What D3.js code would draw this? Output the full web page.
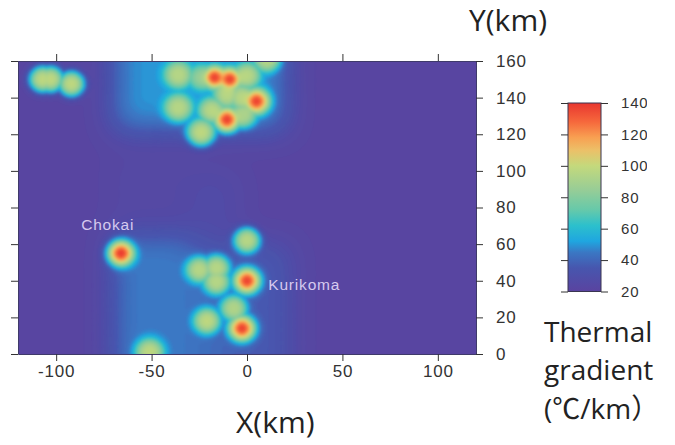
<!DOCTYPE html>
<meta charset="utf-8">
<head>
<title>Thermal gradient map</title>
<style>
    html, body { margin: 0; padding: 0; background: #fff; }
    svg { display: block; }
    .tick text { font-family: "Liberation Sans", Arial, sans-serif; fill: #333; }
    .big { font-family: "Open Sans", "Noto Sans CJK JP", sans-serif; font-size: 28px; fill: #222; }
    .name { font-family: "Liberation Sans", Arial, sans-serif; font-size: 15.5px; letter-spacing: 0.8px; fill: #d6c9ef; }
</style>
</head>
<body>
<div id="my_dataviz"></div>
<script src="https://d3js.org/d3.v7.min.js"></script>
<script>

// warm spots
var spotX     = [-107, -103, -92, -36, -24, -17, -9, 0, 10.5, 5, -36, -24, -10.5, -18.5, -10.5, -2.6, -2, -66, 0, -25, -16, -16, 0, -7, -21, -2.6, -51];
var spotY     = [150, 150, 147.5, 152.5, 151, 151, 150, 152, 161, 138, 134.5, 121, 128, 133, 141.5, 140, 130.5, 55, 62, 46, 47, 39.5, 40, 25, 18, 14, 1];
var spotPeak  = [98, 98, 98, 96, 85, 96, 96, 96, 96, 100, 96, 98, 100, 96, 96, 96, 92, 100, 96, 96, 96, 96, 100, 94, 98, 100, 98];
var spotWidth = [7.2, 7.2, 7, 7.5, 7, 6.6, 6.6, 7, 7, 7.6, 7.5, 7.5, 7.2, 7, 7, 7, 7, 7.6, 7, 7, 7, 7, 7.6, 7, 7, 7.6, 7.5];

// red cores inside some of the spots
var coreX    = [-17, -9, 5, -10.5, -66, 0, -2.6];
var coreY    = [151, 150, 138, 128, 55, 40, 14];
var corePeak = [138, 138, 138, 138, 140, 138, 138];
var coreWidth = 4.2;

// soft blue blocks behind the spots: x0, x1, y0, y1, value
var blockX0  = [-70, -70, -28, -10, -30, -70];
var blockX1  = [20, -28, -10, 22, -5, -30];
var blockY0  = [122, -10, -10, -10, 0, 60];
var blockY1  = [170, 64, 55, 60, 100, 110];
var blockVal = [50, 46, 42, 37, 28, 25];
var baseVal = 22;

// colour bar
var colorVals = [20, 35, 45, 52, 62, 72, 85, 100, 110, 118, 128, 140];
var colorHex  = ["#5a43a0", "#4756ae", "#3a78c4", "#1fa6e0", "#2cc0cc", "#66c9aa", "#98cd96", "#c4d97c", "#ecc068", "#f8a052", "#f6683c", "#e8362f"];

var xTicks = [-100, -50, 0, 50, 100];
var yTicks = [0, 20, 40, 60, 80, 100, 120, 140, 160];
var barTicks = [20, 40, 60, 80, 100, 120, 140];

var width = 675, height = 445;
var svg = d3.select("#my_dataviz").append("svg")
    .attr("width", width).attr("height", height);
var defs = svg.append("defs");

var x = d3.scaleLinear().domain([-120, 120]).range([18, 476]);
var y = d3.scaleLinear().domain([0, 160]).range([354, 61]);
var color = d3.scaleLinear().domain(colorVals).range(colorHex).clamp(true);

// plain hyphen for negative labels, like the original
var tickFmt = function(d) { return String(d); };

// build the field on a 1 km grid
var nx = 241, ny = 161;
var bg = new Float64Array(nx * ny).fill(baseVal);
for (var j = 0; j < ny; j++) {
    var ky = 160 - j;
    for (var i = 0; i < nx; i++) {
        var kx = -120 + i;
        for (var b = 0; b < blockVal.length; b++) {
            if (kx >= blockX0[b] && kx <= blockX1[b] && ky >= blockY0[b] && ky <= blockY1[b]) {
                bg[j * nx + i] = Math.max(bg[j * nx + i], blockVal[b]);
            }
        }
    }
}
d3.blur2({data: bg, width: nx, height: ny}, 7);

var field = new Float64Array(nx * ny);
for (var j = 0; j < ny; j++) {
    var ky = 160 - j;
    for (var i = 0; i < nx; i++) {
        var kx = -120 + i, base = bg[j * nx + i], v = base;
        for (var s = 0; s < spotX.length; s++) {
            var dx = kx - spotX[s], dy = ky - spotY[s];
            var r = Math.sqrt(dx * dx + dy * dy) / spotWidth[s];
            if (r < 3) v = Math.max(v, base + (spotPeak[s] - base) * Math.exp(-Math.pow(r, 3)));
        }
        for (var c = 0; c < coreX.length; c++) {
            var cx = kx - coreX[c], cy = ky - coreY[c];
            var rc = Math.sqrt(cx * cx + cy * cy) / coreWidth;
            if (rc < 3) v = Math.max(v, v + (corePeak[c] - v) * Math.exp(-rc * rc));
        }
        field[j * nx + i] = v;
    }
}

// draw it as stacked contours
var levels = d3.range(18, 140, 1.5);
var contours = d3.contours().size([nx, ny]).thresholds(levels)(Array.from(field));
var toPx = d3.geoTransform({
    point: function(gx, gy) {
        this.stream.point(x(-120 + gx - 0.5), y(160 - gy + 0.5));
    }
});
defs.append("clipPath").attr("id", "plot-clip").append("rect")
    .attr("x", x.range()[0]).attr("y", y.range()[1])
    .attr("width", x.range()[1] - x.range()[0]).attr("height", y.range()[0] - y.range()[1]);
defs.append("filter").attr("id", "soft")
    .attr("x", "-2%").attr("y", "-2%").attr("width", "104%").attr("height", "104%")
    .append("feGaussianBlur").attr("stdDeviation", 0.8);
var plot = svg.append("g").attr("clip-path", "url(#plot-clip)");
plot.append("rect")
    .attr("x", x.range()[0]).attr("y", y.range()[1])
    .attr("width", x.range()[1] - x.range()[0]).attr("height", y.range()[0] - y.range()[1])
    .attr("fill", color(baseVal));
plot.append("g").attr("filter", "url(#soft)")
    .selectAll("path").data(contours).enter().append("path")
    .attr("d", d3.geoPath(toPx))
    .attr("fill", function(d) { return color(d.value); })
    .attr("stroke", function(d) { return color(d.value); })
    .attr("stroke-width", 0.5);

// axes
function styleAxis(g, size) {
    g.selectAll(".domain").attr("stroke", "#3f3a6a");
    g.selectAll(".tick line").attr("stroke", "#333");
    g.selectAll(".tick text").style("font-size", size + "px").style("letter-spacing", "0.8px");
}
svg.append("g").attr("transform", "translate(0,61)")
    .call(d3.axisTop(x).tickValues(xTicks).tickFormat("").tickSize(7).tickSizeOuter(0))
    .call(styleAxis, 16);
svg.append("g").attr("transform", "translate(0,354)")
    .call(d3.axisBottom(x).tickValues(xTicks).tickFormat(tickFmt).tickSize(7).tickSizeOuter(0).tickPadding(4))
    .call(styleAxis, 17);
svg.append("g").attr("transform", "translate(18,0)")
    .call(d3.axisLeft(y).tickValues(yTicks).tickFormat("").tickSize(7).tickSizeOuter(0))
    .call(styleAxis, 16);
svg.append("g").attr("transform", "translate(476,0)")
    .call(d3.axisRight(y).tickValues(yTicks).tickFormat(tickFmt).tickSize(7).tickSizeOuter(0).tickPadding(13))
    .call(styleAxis, 17);

// volcano names
svg.append("text").attr("class", "name").attr("x", x(-73)).attr("y", y(67.5))
    .attr("text-anchor", "middle").text("Chokai");
svg.append("text").attr("class", "name").attr("x", x(30)).attr("y", y(35))
    .attr("text-anchor", "middle").text("Kurikoma");

// colour bar
var barY = d3.scaleLinear().domain([20, 140]).range([291.5, 103]);
var grad = defs.append("linearGradient").attr("id", "bar-grad")
    .attr("x1", 0).attr("y1", 1).attr("x2", 0).attr("y2", 0);
grad.selectAll("stop").data(colorVals).enter().append("stop")
    .attr("offset", function(d) { return (d - 20) / 120; })
    .attr("stop-color", function(d) { return color(d); });
svg.append("rect").attr("x", 568).attr("y", barY(140))
    .attr("width", 33).attr("height", barY(20) - barY(140))
    .attr("fill", "url(#bar-grad)").attr("stroke", "#3a3550").attr("stroke-width", 1);
svg.append("g").attr("transform", "translate(568,0)")
    .call(d3.axisLeft(barY).tickValues(barTicks).tickFormat("").tickSize(7).tickSizeOuter(0))
    .call(styleAxis, 14)
    .select(".domain").remove();
defs.append("clipPath").attr("id", "bar-clip").append("rect")
    .attr("x", 0).attr("y", 90).attr("width", 46).attr("height", 215);
svg.append("g").attr("transform", "translate(601,0)").attr("clip-path", "url(#bar-clip)")
    .call(d3.axisRight(barY).tickValues(barTicks).tickFormat(tickFmt).tickSize(7).tickSizeOuter(0).tickPadding(13))
    .call(styleAxis, 15)
    .select(".domain").remove();

// titles
svg.append("text").attr("class", "big").attr("x", 469).attr("y", 31).style("font-size", "30px").text("Y(km)");
svg.append("text").attr("class", "big").attr("x", 236).attr("y", 433).style("font-size", "30px").text("X(km)");
svg.append("text").attr("class", "big").attr("x", 544).attr("y", 342).text("Thermal");
svg.append("text").attr("class", "big").attr("x", 544).attr("y", 380).text("gradient");
svg.append("text").attr("class", "big").attr("x", 544).attr("y", 419).text("(℃/km）");

</script>
</body>
